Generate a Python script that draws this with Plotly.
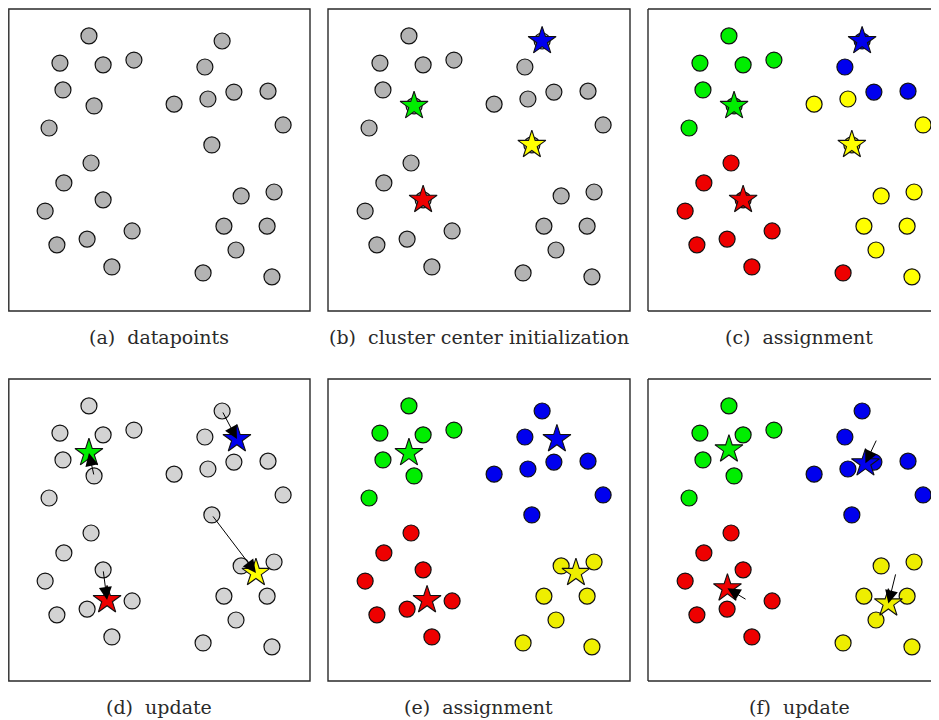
import plotly.graph_objects as go

# ---------------- data ----------------
pt_x = [2.68, 1.72, 3.15, 4.17, 1.82, 2.85, 1.36, 2.75, 1.85, 3.15, 1.23, 1.62, 2.62, 4.11, 3.44,
        7.09, 6.52, 5.50, 6.62, 7.48, 8.61, 9.11, 6.75, 7.72, 8.81, 7.15, 8.58, 7.55, 6.46, 8.74]
pt_y = [9.11, 8.21, 8.15, 8.31, 7.32, 6.79, 6.06, 4.90, 4.24, 3.68, 3.31, 2.19, 2.38, 2.65, 1.46,
        8.94, 8.08, 6.85, 7.02, 7.25, 7.28, 6.16, 5.50, 3.81, 3.94, 2.81, 2.81, 2.02, 1.26, 1.13]

# cluster order: green, blue, yellow, red
clusters = ["green", "blue", "yellow", "red"]
assign_c = ["green"] * 7 + ["red"] * 8 + ["blue", "blue", "yellow", "yellow", "blue", "blue",
                                          "yellow", "yellow", "yellow", "yellow", "yellow",
                                          "yellow", "yellow", "red", "yellow"]
assign_e = ["green"] * 7 + ["red"] * 8 + ["blue"] * 8 + ["yellow"] * 7

init_x = [2.85, 7.09, 6.75, 3.15]
init_y = [6.79, 8.94, 5.50, 3.68]
upd1_x = [2.68, 7.58, 8.21, 3.28]
upd1_y = [7.55, 8.01, 3.58, 2.68]
upd2_x = [2.68, 7.20, 7.96, 2.63]
upd2_y = [7.67, 7.21, 2.57, 3.07]

captions = ["(a)\u00a0 datapoints", "(b)\u00a0 cluster center initialization", "(c)\u00a0 assignment",
            "(d)\u00a0 update", "(e)\u00a0 assignment", "(f)\u00a0 update"]

# ---------------- styles ----------------
col_c = {"green": "#00ee00", "blue": "#0000ee", "yellow": "#ffff00", "red": "#ee0000"}
col_e = {"green": "#00ee00", "blue": "#0000ee", "yellow": "#eeee00", "red": "#ee0000"}
GRAY_A = "#b3b3b3"
GRAY_D = "#d3d3d3"
W, H = 939, 720
SCALE = 30.2  # px per data unit

# panel boxes in figure pixels: (left, top, right, bottom)
boxes = [(0, 1, 302, 303), (320, 1, 622, 303), (640, 1, 942, 303),
         (0, 371, 302, 673), (320, 371, 622, 673), (640, 371, 942, 673)]

fig = go.Figure()
layout = dict(width=W, height=H, margin=dict(l=0, r=0, t=0, b=0),
              plot_bgcolor="white", paper_bgcolor="white", showlegend=False,
              hovermode=False)
shapes = []
annotations = []
for i, (l, t, r, b) in enumerate(boxes):
    k = "" if i == 0 else str(i + 1)
    rr = min(r, W)
    layout["xaxis" + k] = dict(domain=[l / W, rr / W], range=[0, (rr - l) / SCALE],
                               visible=False, fixedrange=True, anchor="y" + k)
    layout["yaxis" + k] = dict(domain=[1 - b / H, 1 - t / H], range=[0, 10],
                               visible=False, fixedrange=True, anchor="x" + k)
    lc = dict(color="#2a2a2a", width=1.4)
    bl = max(l, 0.8)
    if r <= W:
        shapes.append(dict(type="rect", xref="paper", yref="paper", x0=bl / W, x1=r / W,
                           y0=1 - b / H, y1=1 - t / H, line=lc, layer="above"))
    else:
        for (x0, y0, x1, y1) in [(bl, t, W + 5, t), (bl, b, W + 5, b), (bl, t, bl, b)]:
            shapes.append(dict(type="line", xref="paper", yref="paper", x0=x0 / W, x1=x1 / W,
                               y0=1 - y0 / H, y1=1 - y1 / H, line=lc, layer="above"))
    annotations.append(dict(text=captions[i], xref="paper", yref="paper",
                            x=(l + 302 / 2) / W, y=1 - (b + 26) / H, showarrow=False,
                            xanchor="center", yanchor="middle",
                            font=dict(family="DejaVu Serif", size=19, color="#2a2a2a")))


def ax(i):
    k = "" if i == 0 else str(i + 1)
    return "x" + k, "y" + k


def add_points(i, colors):
    xa, ya = ax(i)
    fig.add_trace(go.Scatter(x=pt_x, y=pt_y, mode="markers", xaxis=xa, yaxis=ya,
                             marker=dict(size=16, color=colors, symbol="circle",
                                         line=dict(color="#111", width=1.2))))


def add_stars(i, xs, ys, colors):
    xa, ya = ax(i)
    fig.add_trace(go.Scatter(x=xs, y=ys, mode="markers", xaxis=xa, yaxis=ya,
                             marker=dict(size=21, color=colors, symbol="star",
                                         line=dict(color="#111", width=1.1))))


def add_arrows(i, x0s, y0s, x1s, y1s):
    xa, ya = ax(i)
    for a, b, c, d in zip(x0s, y0s, x1s, y1s):
        annotations.append(dict(x=c, y=d, ax=a, ay=b, xref=xa, yref=ya, axref=xa, ayref=ya,
                                showarrow=True, arrowhead=2, arrowsize=2.6, arrowwidth=1,
                                arrowcolor="black", text="", standoff=0, startstandoff=0))


# (a)
add_points(0, [GRAY_A] * len(pt_x))
# (b)
add_points(1, [GRAY_A] * len(pt_x))
add_stars(1, init_x, init_y, [col_c[c] for c in clusters])
# (c)
add_points(2, [col_c[c] for c in assign_c])
add_stars(2, init_x, init_y, [col_c[c] for c in clusters])
# (d)
add_points(3, [GRAY_D] * len(pt_x))
add_stars(3, upd1_x, upd1_y, [col_c[c] for c in clusters])
add_arrows(3, init_x, init_y, upd1_x, upd1_y)
# (e)
add_points(4, [col_e[c] for c in assign_e])
add_stars(4, upd1_x, upd1_y, [col_e[c] for c in clusters])
# (f)
add_points(5, [col_e[c] for c in assign_e])
add_stars(5, upd2_x, upd2_y, [col_e[c] for c in clusters])
add_arrows(5, upd1_x, upd1_y, upd2_x, upd2_y)

layout["shapes"] = shapes
layout["annotations"] = annotations
fig.update_layout(**layout)
fig.write_html("out.html")
